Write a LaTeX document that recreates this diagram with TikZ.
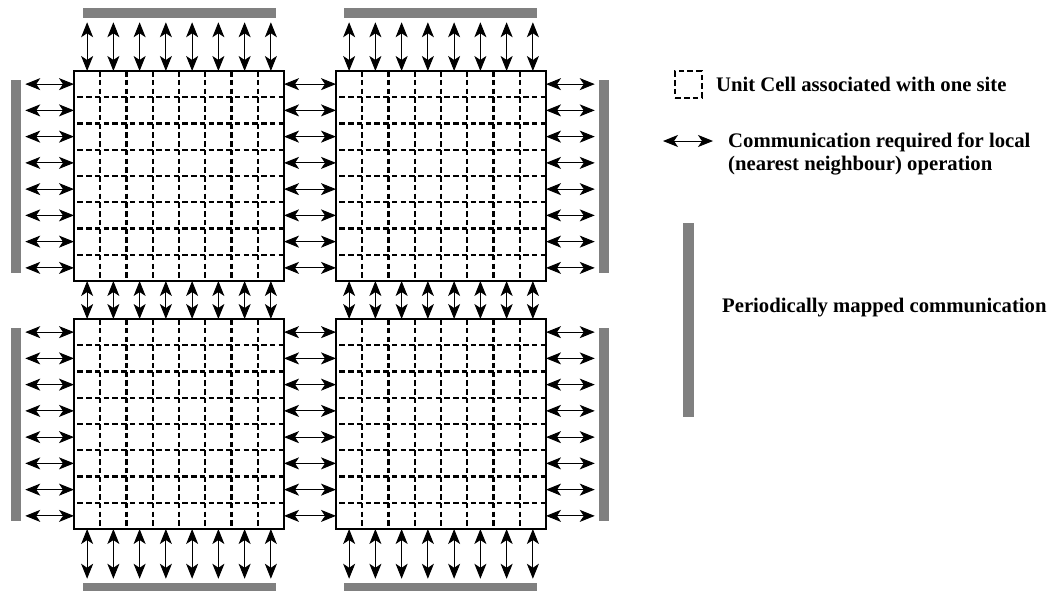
\documentclass[tikz,border=0pt]{standalone}
\usepackage{fontspec}
\setmainfont{Liberation Serif}
\usetikzlibrary{arrows.meta}
\tikzset{>={Stealth[length=15pt,width=12pt,inset=4pt]}}
\tikzstyle{blk} = [draw=black, line width=2.7pt, minimum size=210pt, inner sep=0pt, outer sep=0pt]
\tikzstyle{hbar} = [fill=gray, minimum width=193pt, minimum height=10.5pt, inner sep=0pt, outer sep=0pt]
\tikzstyle{vbar} = [fill=gray, minimum width=10.5pt, minimum height=193pt, inner sep=0pt, outer sep=0pt]
\tikzstyle{hgrid} = [line width=2.2pt, dash pattern=on 5.5pt off 3.25pt, dash phase=5.5pt]
\tikzstyle{vgrid} = [line width=2.2pt, dash pattern=on 5.5pt off 3.25pt]
\tikzstyle{comm} = [<->, line width=1pt]
\tikzstyle{tobar} = [comm, shorten >=4pt]
\tikzstyle{lbl} = [anchor=west, inner sep=0pt, align=left, font={\fontsize{20.7pt}{23pt}\selectfont\bfseries}]

\begin{document}
\begin{tikzpicture}[x=1pt,y=-1pt]
        \useasboundingbox (0,0) rectangle (1051,590);
        % the four blocks of sites
        \node[blk](tl) at (179,176){};
        \node[blk](tr) at (441,176){};
        \node[blk](bl) at (179,424){};
        \node[blk](br) at (441,424){};
        \foreach \b in {tl,tr,bl,br}{
          \foreach \k in {1,...,7}{
            \pgfmathsetmacro\g{26.25*\k}
            \draw[vgrid] ([xshift=\g pt]\b.north west) -- ([xshift=\g pt]\b.south west);
            \draw[hgrid] ([yshift=-\g pt]\b.north west) -- ([yshift=-\g pt]\b.north east);
          }
        }
        % periodic boundary bars
        \node[hbar](tlN) at (179.5,13){};
        \node[hbar](trN) at (440.5,13){};
        \node[hbar](blS) at (179.5,588){};
        \node[hbar](brS) at (440.5,588){};
        \node[vbar](tlW) at (16,176.5){};
        \node[vbar](blW) at (16,424.5){};
        \node[vbar](trE) at (604,176.5){};
        \node[vbar](brE) at (604,424.5){};
        % nearest neighbour communication
        \foreach \i in {0,...,7}{
          \pgfmathsetmacro\d{13.125+26.25*\i}
          \draw[tobar] ([xshift=\d pt]tl.north west) -- ([xshift=\d pt]tl.north west |- tlN.south);
          \draw[tobar] ([xshift=\d pt]tr.north west) -- ([xshift=\d pt]tr.north west |- trN.south);
          \draw[comm] ([xshift=\d pt]tl.south west) -- ([xshift=\d pt]bl.north west);
          \draw[comm] ([xshift=\d pt]tr.south west) -- ([xshift=\d pt]br.north west);
          \draw[tobar] ([xshift=\d pt]bl.south west) -- ([xshift=\d pt]bl.south west |- blS.north);
          \draw[tobar] ([xshift=\d pt]br.south west) -- ([xshift=\d pt]br.south west |- brS.north);
          \draw[tobar] ([yshift=-\d pt]tl.north west) -- ([yshift=-\d pt]tl.north west -| tlW.east);
          \draw[tobar] ([yshift=-\d pt]bl.north west) -- ([yshift=-\d pt]bl.north west -| blW.east);
          \draw[comm] ([yshift=-\d pt]tl.north east) -- ([yshift=-\d pt]tr.north west);
          \draw[comm] ([yshift=-\d pt]bl.north east) -- ([yshift=-\d pt]br.north west);
          \draw[tobar] ([yshift=-\d pt]tr.north east) -- ([yshift=-\d pt]tr.north east -| trE.west);
          \draw[tobar] ([yshift=-\d pt]br.north east) -- ([yshift=-\d pt]br.north east -| brE.west);
        }
        % legend
        \node[vgrid, draw, minimum size=26.25pt, inner sep=0pt](cell) at (688.5,84.5){};
        \node[lbl](celltxt) at (716,84){Unit Cell associated with one site};
        \coordinate (arrL) at (663,141);
        \coordinate (arrR) at (713,141);
        \draw[comm](arrL)--(arrR);
        \node[lbl](commtxt) at (728,154){Communication required for local\\(nearest neighbour) operation};
        \node[vbar, minimum height=194pt](pbar) at (688.5,320){};
        \node[lbl](pbartxt) at (722,308){Periodically mapped communication};
      \end{tikzpicture}
\end{document}
